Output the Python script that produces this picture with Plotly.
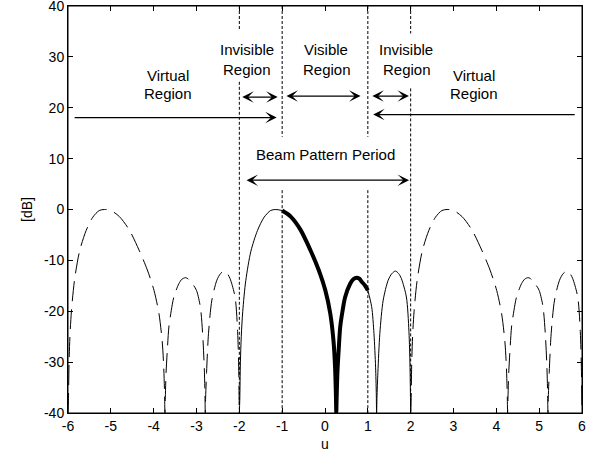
import plotly.graph_objects as go

# ---------------- data ----------------
# central period, u in [-2, 2]
u_center = [-2.0, -1.99, -1.975, -1.955, -1.92, -1.85, -1.73, -1.575, -1.42, -1.27, -1.15, -1.0,
            -0.8, -0.571, -0.34, -0.147, 0.008, 0.124, 0.2, 0.235, 0.255, 0.263, 0.272, 0.29, 0.32,
            0.355, 0.41, 0.471, 0.587, 0.66, 0.741, 0.8, 0.857, 0.93, 1.0,
            1.089, 1.143, 1.181, 1.197, 1.205, 1.213, 1.235, 1.28, 1.359, 1.475, 1.56, 1.645, 1.72,
            1.784, 1.9, 1.96, 1.985, 2.0]
db_center = [-40, -37.5, -30, -25, -20, -14, -8.2, -4.1, -1.5, -0.2, 0, -0.2,
             -1.4, -4.0, -8.0, -11.9, -15.9, -20.5, -26, -31, -36.5, -40, -37, -32, -27.5,
             -23.1, -19.9, -17.2, -14.6, -13.7, -13.4, -13.6, -14.2, -14.9, -15.9,
             -19.1, -24.4, -31.0, -36, -40, -37, -32, -24.4, -17.8, -13.9, -12.6, -12.1, -12.6,
             -13.6, -17.2, -24, -31, -40]

# left virtual region, u in [-6, -2]
u_left = [-6.0, -5.99, -5.975, -5.955, -5.92, -5.85, -5.73, -5.575, -5.42, -5.27, -5.15, -5.0,
          -4.8, -4.571, -4.34, -4.147, -3.992, -3.876, -3.8, -3.765, -3.745, -3.737, -3.728, -3.71, -3.68,
          -3.645, -3.59, -3.529, -3.413, -3.34, -3.259, -3.2, -3.143, -3.07, -3.0,
          -2.911, -2.857, -2.819, -2.803, -2.795, -2.787, -2.765, -2.72, -2.641, -2.525, -2.44, -2.355, -2.28,
          -2.216, -2.1, -2.04, -2.015, -2.0]
db_left = [-40, -37.5, -30, -25, -20, -14, -8.2, -4.1, -1.5, -0.2, 0, -0.2,
           -1.4, -4.0, -8.0, -11.9, -15.9, -20.5, -26, -31, -36.5, -40, -37, -32, -27.5,
           -23.1, -19.9, -17.2, -14.6, -13.7, -13.4, -13.6, -14.2, -14.9, -15.9,
           -19.1, -24.4, -31.0, -36, -40, -37, -32, -24.4, -17.8, -13.9, -12.6, -12.1, -12.6,
           -13.6, -17.2, -24, -31, -40]

# right virtual region, u in [2, 6]
u_right = [2.0, 2.01, 2.025, 2.045, 2.08, 2.15, 2.27, 2.425, 2.58, 2.73, 2.85, 3.0,
           3.2, 3.429, 3.66, 3.853, 4.008, 4.124, 4.2, 4.235, 4.255, 4.263, 4.272, 4.29, 4.32,
           4.355, 4.41, 4.471, 4.587, 4.66, 4.741, 4.8, 4.857, 4.93, 5.0,
           5.089, 5.143, 5.181, 5.197, 5.205, 5.213, 5.235, 5.28, 5.359, 5.475, 5.56, 5.645, 5.72,
           5.784, 5.9, 5.96, 5.985, 6.0]
db_right = [-40, -37.5, -30, -25, -20, -14, -8.2, -4.1, -1.5, -0.2, 0, -0.2,
            -1.4, -4.0, -8.0, -11.9, -15.9, -20.5, -26, -31, -36.5, -40, -37, -32, -27.5,
            -23.1, -19.9, -17.2, -14.6, -13.7, -13.4, -13.6, -14.2, -14.9, -15.9,
            -19.1, -24.4, -31.0, -36, -40, -37, -32, -24.4, -17.8, -13.9, -12.6, -12.1, -12.6,
            -13.6, -17.2, -24, -31, -40]

x_ticks = [-6, -5, -4, -3, -2, -1, 0, 1, 2, 3, 4, 5, 6]
y_ticks = [-40, -30, -20, -10, 0, 10, 20, 30, 40]

# region boundaries (dotted lines) and where each is interrupted
bound_u = [-2, -1, 1, 2]
bound_top_end = [35.4, 14.3, 14.3, 34.6]
bound_low_start = [25.1, 3.8, 3.8, 23.8]

# labels: (text, u, dB)
labels = [
    ("Virtual", -3.655, 26.3), ("Region", -3.655, 22.9),
    ("Invisible", -1.83, 31.4), ("Region", -1.81, 27.6),
    ("Visible", 0.02, 31.4), ("Region", 0.04, 27.6),
    ("Invisible", 1.90, 31.4), ("Region", 1.925, 27.6),
    ("Virtual", 3.475, 26.4), ("Region", 3.49, 22.8),
    ("Beam Pattern Period", 0.017, 10.8),
]

# arrows: (tip u, tail u, dB, double-headed)
arrows = [
    (-1.128, -5.88, 18.07, False),
    (-1.105, -1.967, 22.1, True),
    (0.83, -0.935, 22.3, True),
    (1.96, 1.07, 22.3, True),
    (1.124, 5.865, 18.66, False),
    (1.963, -1.867, 5.76, True),
]

# ---------------- figure ----------------
FONT = "Arial, 'Liberation Sans', sans-serif"
fig = go.Figure()

# dashed virtual-region parts
for uu, dd in [(u_left, db_left), (u_right, db_right)]:
    fig.add_trace(go.Scatter(x=uu, y=dd, mode="lines",
                             line=dict(color="black", width=1, dash="20px,8px",
                                       shape="spline", smoothing=0.8),
                             showlegend=False, hoverinfo="skip"))

# thin solid invisible-region parts
thin_l = [(u, d) for u, d in zip(u_center, db_center) if u <= -1.0]
thin_r = [(u, d) for u, d in zip(u_center, db_center) if u >= 1.0]
for seg in (thin_l, thin_r):
    fig.add_trace(go.Scatter(x=[p[0] for p in seg], y=[p[1] for p in seg], mode="lines",
                             line=dict(color="black", width=1, shape="spline", smoothing=0.8),
                             showlegend=False, hoverinfo="skip"))

# thick visible-region part
thick = [(u, d) for u, d in zip(u_center, db_center) if -1.0 <= u <= 1.0]
fig.add_trace(go.Scatter(x=[p[0] for p in thick], y=[p[1] for p in thick], mode="lines",
                         line=dict(color="black", width=4, shape="spline", smoothing=0.8),
                         showlegend=False, hoverinfo="skip"))

# dotted boundaries
bx, by = [], []
for u0, te, ls in zip(bound_u, bound_top_end, bound_low_start):
    bx += [u0, u0, None, u0, u0, None]
    by += [40, te, None, ls, -40, None]
fig.add_trace(go.Scatter(x=bx, y=by, mode="lines",
                         line=dict(color="black", width=1, dash="3px,2px"),
                         showlegend=False, hoverinfo="skip"))

annotations = []
for txt, u0, d0 in labels:
    annotations.append(dict(x=u0, y=d0, xref="x", yref="y", text=txt, showarrow=False,
                            xanchor="center", yanchor="middle",
                            font=dict(family=FONT, size=15, color="black")))
for tip, tail, d0, dbl in arrows:
    annotations.append(dict(x=tip, y=d0, ax=tail, ay=d0, xref="x", yref="y",
                            axref="x", ayref="y", text="", showarrow=True,
                            arrowhead=3, arrowsize=1.6, arrowwidth=1.2, arrowcolor="black",
                            arrowside="end+start" if dbl else "end",
                            startarrowhead=3, startarrowsize=1.6,
                            standoff=0, startstandoff=0))

axis_common = dict(showline=True, linecolor="black", linewidth=1, mirror="allticks",
                   ticks="inside", ticklen=5, tickcolor="black", tickwidth=1,
                   showgrid=False, zeroline=False, ticklabeloverflow="allow",
                   automargin=False,
                   tickfont=dict(family=FONT, size=14, color="black"))

fig.update_layout(
    width=595, height=457,
    margin=dict(l=68, r=13, t=6, b=44),
    paper_bgcolor="white", plot_bgcolor="white",
    font=dict(family=FONT, size=14, color="black"),
    xaxis=dict(range=[-6, 6], tickvals=x_ticks, ticktext=[str(v) for v in x_ticks],
               title=dict(text="u", font=dict(family=FONT, size=14, color="black"), standoff=6),
               **axis_common),
    yaxis=dict(range=[-40, 40], tickvals=y_ticks, ticktext=[str(v) for v in y_ticks],
               title=dict(text="[dB]", font=dict(family=FONT, size=14, color="black"), standoff=8),
               **axis_common),
    annotations=annotations,
    shapes=[dict(type="rect", xref="paper", yref="paper", x0=0, y0=0, x1=1, y1=1,
                 line=dict(color="black", width=1), fillcolor="rgba(0,0,0,0)", layer="above")],
    showlegend=False,
)

fig.write_html("out.html", config={"displayModeBar": False},
               post_script="document.body.style.margin='0';document.body.style.padding='0';")
